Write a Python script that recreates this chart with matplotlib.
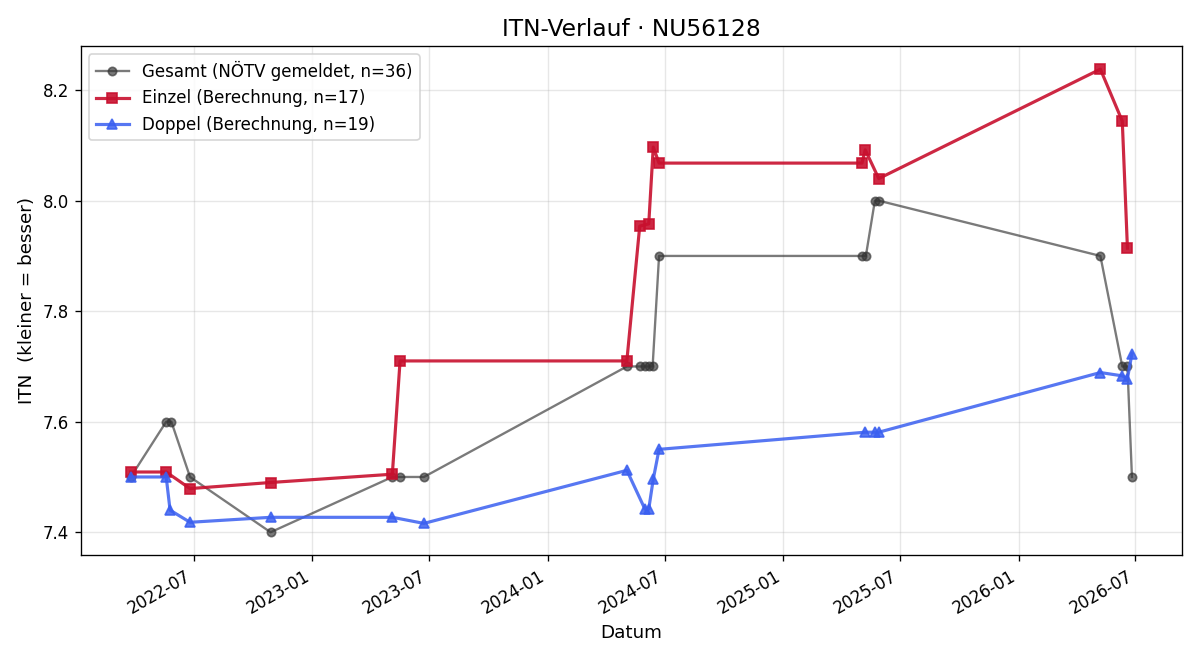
import matplotlib
matplotlib.use("Agg")
import matplotlib.pyplot as plt
import matplotlib.dates as mdates
import pandas as pd

# Gesamt (NÖTV gemeldet)
gesamt_dates = ["2022-03-25", "2022-05-19", "2022-05-27", "2022-06-25", "2022-10-28",
                "2023-05-05", "2023-05-17", "2023-06-23",
                "2024-05-03", "2024-05-23", "2024-05-31", "2024-06-06", "2024-06-12", "2024-06-22",
                "2025-05-03", "2025-05-09", "2025-05-23", "2025-05-29",
                "2026-05-08", "2026-06-11", "2026-06-19", "2026-06-26"]
gesamt_vals = [7.5, 7.6, 7.6, 7.5, 7.4,
               7.5, 7.5, 7.5,
               7.7, 7.7, 7.7, 7.7, 7.7, 7.9,
               7.9, 7.9, 8.0, 8.0,
               7.9, 7.7, 7.7, 7.5]

# Einzel (Berechnung)
einzel_dates = ["2022-03-25", "2022-05-19", "2022-06-25", "2022-10-28",
                "2023-05-05", "2023-05-17",
                "2024-05-03", "2024-05-23", "2024-06-06", "2024-06-13", "2024-06-22",
                "2025-05-03", "2025-05-08", "2025-05-29",
                "2026-05-08", "2026-06-11", "2026-06-19"]
einzel_vals = [7.509, 7.509, 7.479, 7.49,
               7.505, 7.71,
               7.71, 7.954, 7.958, 8.097, 8.068,
               8.068, 8.092, 8.04,
               8.238, 8.144, 7.914]

# Doppel (Berechnung)
doppel_dates = ["2022-03-25", "2022-05-19", "2022-05-25", "2022-06-25", "2022-10-28",
                "2023-05-05", "2023-06-23",
                "2024-05-03", "2024-05-31", "2024-06-06", "2024-06-13", "2024-06-22",
                "2025-05-08", "2025-05-23", "2025-05-29",
                "2026-05-08", "2026-06-11", "2026-06-19", "2026-06-26"]
doppel_vals = [7.5, 7.5, 7.44, 7.418, 7.427,
               7.427, 7.416,
               7.512, 7.442, 7.442, 7.496, 7.55,
               7.581, 7.581, 7.581,
               7.689, 7.683, 7.678, 7.723]

fig, ax = plt.subplots(figsize=(10, 5.5), dpi=120)

ax.plot(pd.to_datetime(gesamt_dates), gesamt_vals, marker='o', markersize=5,
        color='#333333', alpha=0.65, linewidth=1.4,
        label='Gesamt (NÖTV gemeldet, n=36)')
ax.plot(pd.to_datetime(einzel_dates), einzel_vals, marker='s', markersize=6,
        color='#c8102e', alpha=0.9, linewidth=1.9,
        label='Einzel (Berechnung, n=17)')
ax.plot(pd.to_datetime(doppel_dates), doppel_vals, marker='^', markersize=6,
        color='#3a5ff0', alpha=0.85, linewidth=1.9,
        label='Doppel (Berechnung, n=19)')

ax.set_title('ITN-Verlauf · NU56128', fontsize=14)
ax.set_xlabel('Datum', fontsize=11)
ax.set_ylabel('ITN  (kleiner = besser)', fontsize=11)
ax.grid(True, alpha=0.3)
ax.xaxis.set_major_locator(mdates.MonthLocator(bymonth=[1, 7]))
ax.xaxis.set_major_formatter(mdates.DateFormatter('%Y-%m'))
ax.legend(loc='upper left')
fig.autofmt_xdate()
fig.tight_layout()
plt.savefig('out.png', dpi=120)
